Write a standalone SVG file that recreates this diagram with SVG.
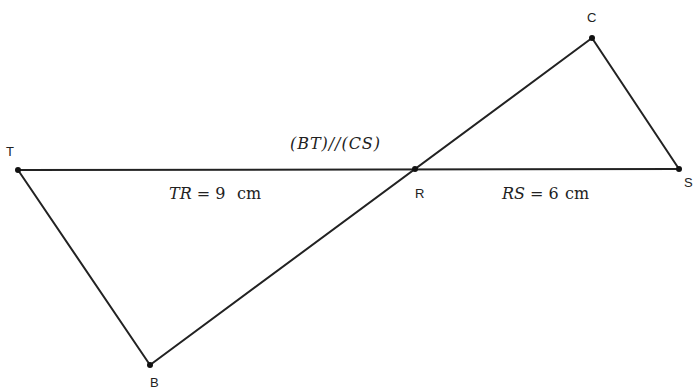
<svg xmlns="http://www.w3.org/2000/svg" width="695" height="390" viewBox="0 0 695 390">
<style>
.ln{stroke:#222;stroke-width:2;fill:none;stroke-linecap:round}
.pt{fill:#111}
.lb{font-family:"Liberation Sans",Arial,sans-serif;font-size:13px;fill:#222}
.mt{font-family:"DejaVu Serif","Liberation Serif",serif;font-size:16px;fill:#222}
.it{font-style:italic}
</style>
<rect width="695" height="390" fill="#fff"/>
<g id="connectors">
<line class="ln" x1="18" y1="170" x2="679" y2="169"/>
<line class="ln" x1="18" y1="170" x2="150" y2="365"/>
<line class="ln" x1="150" y1="365" x2="592" y2="38"/>
<line class="ln" x1="592" y1="38" x2="679" y2="169"/>
</g>
<g id="T"><circle class="pt" cx="18" cy="170" r="3"/><text class="lb" x="6" y="156">T</text></g>
<g id="C"><circle class="pt" cx="592" cy="38" r="3"/><text class="lb" x="587" y="22">C</text></g>
<g id="S"><circle class="pt" cx="679" cy="169" r="3"/><text class="lb" x="684" y="187">S</text></g>
<g id="R"><circle class="pt" cx="415" cy="169" r="3"/><text class="lb" x="415" y="198">R</text></g>
<g id="B"><circle class="pt" cx="150" cy="365" r="3"/><text class="lb" x="150" y="387">B</text></g>
<g id="labels">
<text class="mt it" x="290" y="149" textLength="90" lengthAdjust="spacing">(BT)//(CS)</text>
<text class="mt" x="169" y="199"><tspan class="it">TR</tspan> = 9<tspan x="237">cm</tspan></text>
<text class="mt" x="502" y="199"><tspan class="it">RS</tspan> = 6<tspan x="565">cm</tspan></text>
</g>
</svg>
